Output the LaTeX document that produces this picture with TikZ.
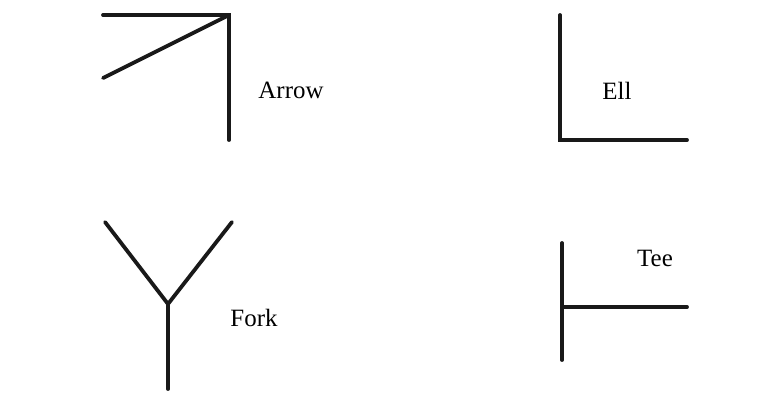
\documentclass[tikz,border=0pt]{standalone}
\usepackage{fontspec}
\setmainfont{Liberation Serif}
\begin{document}
\begin{tikzpicture}[x=1bp,y=-1bp,
  stroke/.style={line width=3.8bp,line cap=round,line join=miter,black!90},
  lbl/.style={font=\fontsize{25}{28}\selectfont,inner sep=0pt}]
\useasboundingbox (0,0) rectangle (777,392);
\fill[white] (0,0) rectangle (777,392);
% Arrow
\coordinate (a1) at (103,15);
\coordinate (a2) at (229,15);
\coordinate (a3) at (229,140);
\coordinate (a4) at (103,78);
\draw[stroke] (a1) -- (a2) -- (a3);
\draw[stroke] (a4) -- (a2);
\node[lbl] (arrow) at (291,90) {Arrow};
% Ell
\coordinate (e1) at (560,15);
\coordinate (e2) at (560,140);
\coordinate (e3) at (687,140);
\draw[stroke] (e1) -- (e2) -- (e3);
\node[lbl] (ell) at (617,91) {Ell};
% Fork
\coordinate (f1) at (105,222);
\coordinate (f2) at (232,222);
\coordinate (fj) at (168,304);
\coordinate (f3) at (168,389);
\draw[stroke] (f1) -- (fj) -- (f2);
\draw[stroke] (fj) -- (f3);
\node[lbl] (fork) at (254,318) {Fork};
% Tee
\coordinate (t1) at (562,243);
\coordinate (t2) at (562,360);
\coordinate (tj) at (562,307);
\coordinate (t3) at (687,307);
\draw[stroke] (t1) -- (t2);
\draw[stroke] (tj) -- (t3);
\node[lbl] (tee) at (655,258) {Tee};
\end{tikzpicture}
\end{document}
